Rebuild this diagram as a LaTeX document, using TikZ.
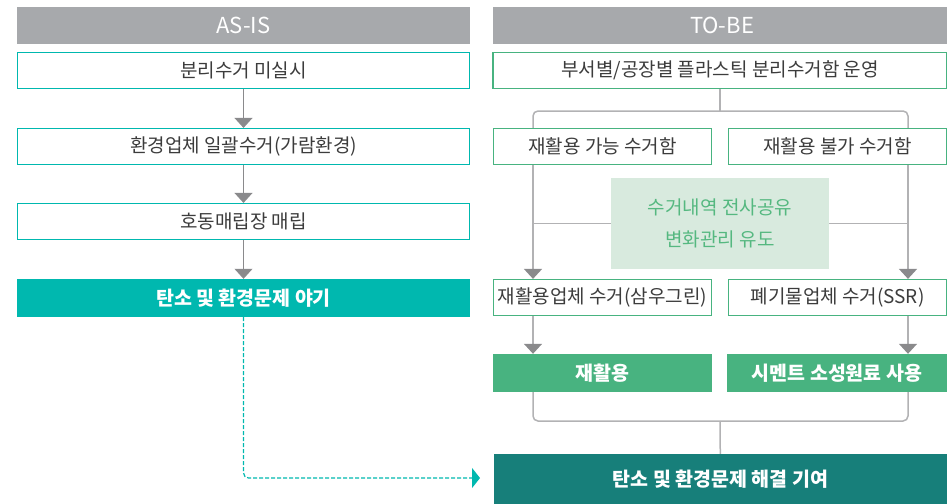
\documentclass[tikz,border=0pt]{standalone}
\usepackage{fontspec}
\setmainfont{Noto Sans CJK KR}
\usetikzlibrary{arrows.meta}
\definecolor{headgray}{RGB}{167,169,172}
\definecolor{teal}{RGB}{0,184,175}
\definecolor{leafgreen}{RGB}{72,179,128}
\definecolor{deepteal}{RGB}{23,127,122}
\definecolor{palegreen}{RGB}{216,234,222}
\definecolor{sharetext}{RGB}{85,184,128}
\definecolor{textgray}{RGB}{60,60,60}
\definecolor{arrowgray}{RGB}{138,138,140}
\definecolor{linegray}{RGB}{178,178,180}
\tikzstyle{header} = [
 rectangle,
 fill=headgray,
 text=white,
 minimum height=37pt,
 inner sep=0pt,
 font=\fontsize{22}{24}\selectfont
]
\tikzstyle{asisBox} = [
 rectangle,
 draw=teal,
 line width=1.2pt,
 fill=white,
 text=textgray,
 minimum width=452pt,
 minimum height=36pt,
 inner sep=0pt,
 font=\fontsize{19}{22}\selectfont
]
\tikzstyle{tobeBox} = [
 asisBox,
 draw=leafgreen
]
\tikzstyle{asisEnd} = [
 rectangle,
 fill=teal,
 text=white,
 minimum width=453pt,
 minimum height=38pt,
 inner sep=0pt,
 font=\fontsize{19.5}{22}\selectfont\bfseries
]
\tikzstyle{tobeLeaf} = [
 asisEnd,
 fill=leafgreen
]
\tikzstyle{flow} = [
 draw=arrowgray,
 line width=1pt,
 -{Triangle[width=18pt,length=10pt]}
]
\tikzstyle{bus} = [
 draw=linegray,
 line width=1.5pt,
 rounded corners=5pt
]
\tikzstyle{busArrow} = [
 bus,
 -{Triangle[width=18pt,length=10pt,color=arrowgray]}
]

\begin{document}
\begin{tikzpicture}[x=1pt,y=-1pt]
  \useasboundingbox (0,0) rectangle (947,503);

  \node [header, minimum width=453pt] (asis) at (243.5,25.5) {AS-IS};
  \node [asisBox] (split) at (243.5,70.5) {분리수거 미실시};
  \node [asisBox] (bulk) at (243.5,146.5) {환경업체 일괄수거(가람환경)};
  \node [asisBox] (landfill) at (243.5,221.5) {호동매립장 매립};
  \node [asisEnd] (harm) at (243.5,298) {탄소 및 환경문제 야기};

  \draw [flow] (split) -- (bulk);
  \draw [flow] (bulk) -- (landfill);
  \draw [flow] (landfill) -- (harm);

  \node [header, minimum width=458pt] (tobe) at (722,25.5) {TO-BE};
  \node [tobeBox, minimum width=454pt] (bins) at (720,70.5) {부서별/공장별 플라스틱 분리수거함 운영};
  \node [tobeBox, minimum width=218pt] (recBin) at (602.5,146.5) {재활용 가능 수거함};
  \node [tobeBox, minimum width=218pt] (wasteBin) at (837.5,146.5) {재활용 불가 수거함};
  \node [rectangle, fill=palegreen, text=sharetext, minimum width=218pt, minimum height=91pt,
    align=center, font=\fontsize{19}{32}\selectfont] (share) at (720,223.5)
    {수거내역 전사공유\\변화관리 유도};
  \node [tobeBox, minimum width=218pt] (recCo) at (602.5,297.5) {재활용업체 수거(삼우그린)};
  \node [tobeBox, minimum width=218pt] (wasteCo) at (837.5,297.5) {폐기물업체 수거(SSR)};
  \node [tobeLeaf, minimum width=219pt] (reuse) at (602.5,373) {재활용};
  \node [tobeLeaf, minimum width=220pt] (cement) at (837,373) {시멘트 소성원료 사용};
  \node [rectangle, fill=deepteal, text=white, minimum width=453pt, minimum height=50pt,
    inner sep=0pt, font=\fontsize{19.5}{22}\selectfont\bfseries] (solve) at (720.5,479)
    {탄소 및 환경문제 해결 기여};

  \coordinate (lx) at (533,0);
  \coordinate (rx) at (908,0);
  \coordinate (fork) at (720,111);
  \coordinate (merge) at (720,421);

  \draw [bus] (bins) -- (fork);
  \draw [bus] (recBin.north -| lx) -- (lx |- fork) -- (rx |- fork) -- (wasteBin.north -| rx);
  \draw [busArrow] (recBin.south -| lx) -- (recCo.north -| lx);
  \draw [busArrow] (wasteBin.south -| rx) -- (wasteCo.north -| rx);
  \draw [bus] (lx |- share) -- (share.west);
  \draw [bus] (share.east) -- (rx |- share);
  \draw [busArrow] (recCo.south -| lx) -- (reuse.north -| lx);
  \draw [busArrow] (wasteCo.south -| rx) -- (cement.north -| rx);
  \draw [bus] (reuse.south -| lx) -- (lx |- merge) -- (rx |- merge) -- (cement.south -| rx);
  \draw [bus] (merge) -- (solve);

  \coordinate (jump) at (480,478);
  \draw [teal, line width=1.2pt, dash pattern=on 4pt off 2pt, rounded corners=5pt,
    -{Triangle[width=20pt,length=8pt,color=teal]}]
    (harm.south) -- (harm.south |- jump) -- (jump);
\end{tikzpicture}
\end{document}
